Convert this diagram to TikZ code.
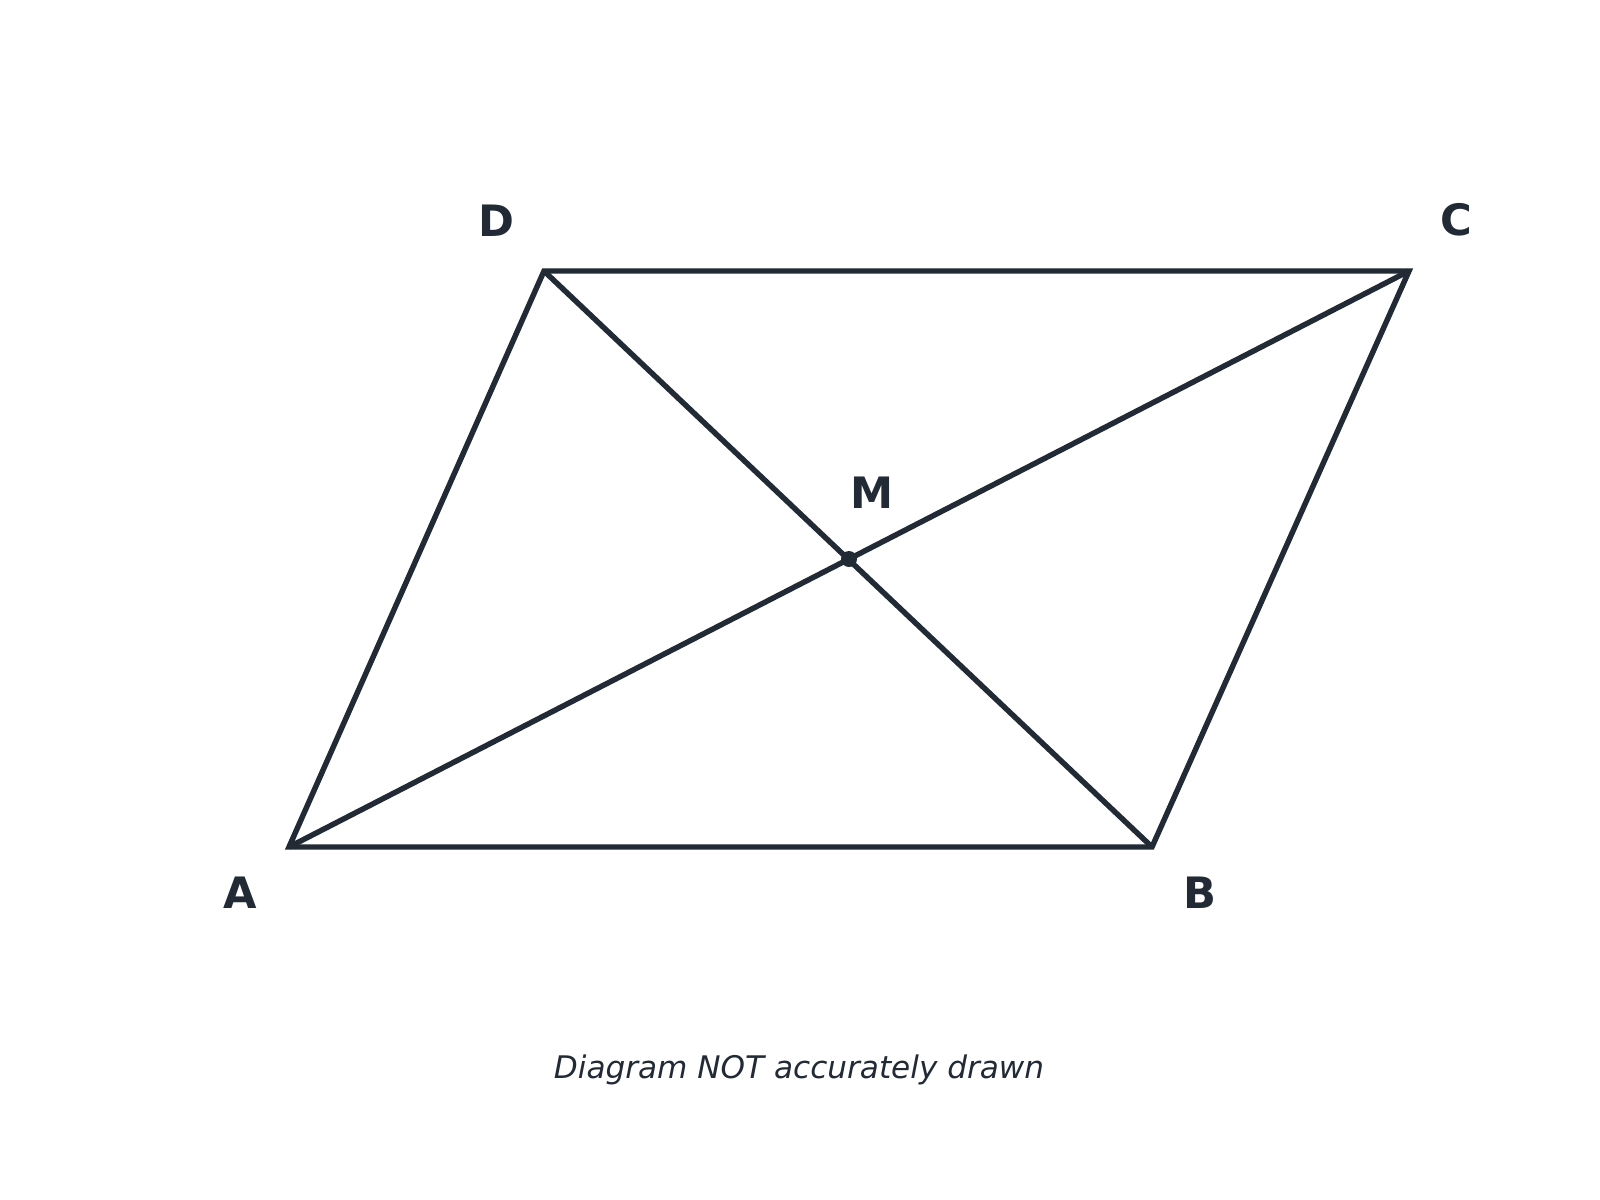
\documentclass[tikz,border=0pt]{standalone}
\usepackage{fontspec}
\setmainfont{DejaVu Sans}
\usetikzlibrary{calc}
\definecolor{ink}{HTML}{212A35}

\begin{document}
\begin{tikzpicture}[x=0.01cm, y=-0.01cm,
    side/.style={draw=ink, line width=1.55pt, line join=miter},
    vertex/.style={text=ink, font=\fontsize{12.3}{14}\selectfont\bfseries, inner sep=0pt}]

  \useasboundingbox (0, 0) rectangle (1600, 1200);

  \coordinate (A) at (289, 847);
  \coordinate (B) at (1152, 847);
  \coordinate (C) at (1409, 271);
  \coordinate (D) at (544, 271);
  \coordinate (M) at ($(A)!0.5!(C)$);

  \draw[side] (A) -- (B) -- (C) -- (D) -- cycle;
  \draw[side] (A) -- (C);
  \draw[side] (B) -- (D);
  \fill[ink] (M) circle (8);

  \node[vertex] (labA) at (240, 893) {A};
  \node[vertex] (labB) at (1200, 893) {B};
  \node[vertex] (labC) at (1456, 220) {C};
  \node[vertex] (labD) at (496, 221) {D};
  \node[vertex] (labM) at (872, 493) {M};

  \node[text=ink, font=\fontsize{8.85}{10}\selectfont\itshape] (note) at (799, 1070) {Diagram NOT accurately drawn};

\end{tikzpicture}
\end{document}
